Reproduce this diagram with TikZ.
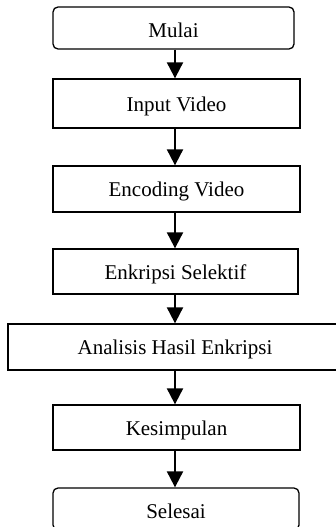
\documentclass[tikz,border=0pt]{standalone}
\usepackage{fontspec}
\setmainfont{Liberation Serif}
\usetikzlibrary{arrows.meta}
\begin{document}
\begin{tikzpicture}[x=1pt,y=1pt,
  box/.style={draw=black, line width=1.3pt, inner sep=0pt, align=center,
    font=\fontsize{21}{25}\selectfont, text height=15.5pt, text depth=0pt},
  term/.style={box, rounded corners=5pt, text height=18.6pt},
  arr/.style={line width=2pt, -{Triangle[width=16pt,length=16pt]}}]
\useasboundingbox (0,0) rectangle (336,-527);
\begin{scope}
\clip (0,0) rectangle (336,-527);
\node[term, minimum width=241pt, minimum height=42pt] (mulai) at (173.5,-28) {Mulai};
\node[box, minimum width=247pt, minimum height=49pt] (input) at (176.5,-103.5) {Input Video};
\node[box, minimum width=247pt, minimum height=46pt] (enc) at (176.5,-189) {Encoding Video};
\node[box, minimum width=245pt, minimum height=45pt] (enk) at (175.5,-271.5) {Enkripsi Selektif};
\node[box, minimum width=334pt, minimum height=46pt] (anal) at (175,-347) {Analisis Hasil Enkripsi};
\node[box, minimum width=247pt, minimum height=45pt] (kes) at (176.5,-427.5) {Kesimpulan};
\node[term, minimum width=246pt, minimum height=42pt] (sel) at (176,-509) {Selesai};
\coordinate (ax) at (175,0);
\draw[arr] (mulai.south -| ax) -- (input.north -| ax);
\draw[arr] (input.south -| ax) -- (enc.north -| ax);
\draw[arr] (enc.south -| ax) -- (enk.north -| ax);
\draw[arr] (enk.south -| ax) -- (anal.north -| ax);
\draw[arr] (anal.south -| ax) -- (kes.north -| ax);
\draw[arr] (kes.south -| ax) -- (sel.north -| ax);
\end{scope}
\end{tikzpicture}
\end{document}
